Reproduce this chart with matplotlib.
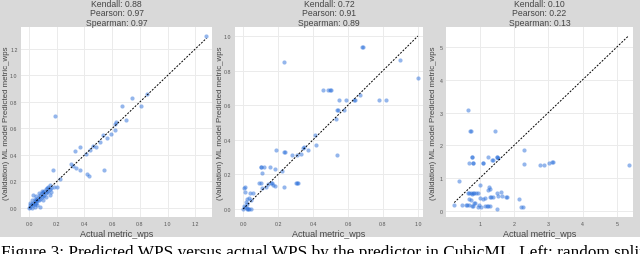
import matplotlib
matplotlib.use("Agg")
import matplotlib.pyplot as plt
from matplotlib.patches import Rectangle

# panel 1: random split
p1_actual = [0.00, 0.01, 0.01, 0.02, 0.02, 0.03, 0.03, 0.04, 0.04, 0.05, 0.05, 0.06, 0.06, 0.07,
             0.07, 0.08, 0.08, 0.09, 0.09, 0.10, 0.10, 0.11, 0.11, 0.12, 0.12, 0.13, 0.13, 0.14,
             0.14, 0.15, 0.15, 0.16, 0.16, 0.03, 0.05, 0.08, 0.01, 0.02, 0.04, 0.06, 0.07, 0.09,
             0.10, 0.18, 0.20, 0.22, 0.04, 0.12, 0.15,
             0.17, 0.37, 0.42, 0.43, 0.54, 0.33, 0.37, 0.30, 0.34, 0.41, 0.44, 0.48, 0.51, 0.53,
             0.56, 0.59, 0.62, 0.63, 0.62, 0.70, 0.19, 0.67, 0.81, 0.74, 0.85, 1.28, 0.32, 0.46]
p1_pred = [0.00, 0.01, 0.02, 0.00, 0.03, 0.02, 0.04, 0.03, 0.05, 0.04, 0.06, 0.05, 0.07, 0.06,
           0.08, 0.07, 0.10, 0.08, 0.11, 0.09, 0.12, 0.10, 0.13, 0.11, 0.14, 0.12, 0.15, 0.13,
           0.16, 0.14, 0.17, 0.12, 0.15, 0.10, 0.09, 0.005, 0.04, 0.06, 0.01, 0.02, 0.11, 0.13,
           0.06, 0.16, 0.16, 0.22, 0.07, 0.08, 0.10,
           0.29, 0.29, 0.26, 0.24, 0.29, 0.43, 0.46, 0.33, 0.30, 0.41, 0.44, 0.46, 0.50, 0.55,
           0.53, 0.56, 0.59, 0.65, 0.63, 0.66, 0.69, 0.77, 0.77, 0.83, 0.86, 1.30, 0.32, 0.47]

# panel 2
p2_actual = [0.234, 0.68, 0.685, 0.90, 1.00, 0.46, 0.485, 0.50, 0.505, 0.55, 0.59, 0.635, 0.64,
             0.67, 0.78, 0.82, 0.54, 0.545, 0.575, 0.53, 0.41, 0.42, 0.535, 0.19, 0.235, 0.24,
             0.28, 0.31, 0.33, 0.34, 0.35, 0.37, 0.10, 0.105, 0.12, 0.155, 0.18, 0.11, 0.225,
             0.09, 0.105, 0.14, 0.16, 0.165, 0.17, 0.18, 0.11, 0.13, 0.235, 0.30, 0.31, 0.315,
             0.01, 0.005, 0.01, 0.04, 0.055, 0.02, 0.035, 0.045, 0.015, 0.00, 0.02, 0.035, 0.01,
             0.02, 0.045, 0.005, 0.03, 0.025]
p2_pred = [0.85, 0.935, 0.935, 0.86, 0.76, 0.69, 0.69, 0.69, 0.69, 0.63, 0.63, 0.63, 0.63,
           0.66, 0.63, 0.63, 0.57, 0.57, 0.57, 0.52, 0.43, 0.37, 0.31, 0.34, 0.33, 0.33,
           0.31, 0.31, 0.32, 0.35, 0.36, 0.34, 0.245, 0.245, 0.245, 0.245, 0.23, 0.21, 0.22,
           0.15, 0.15, 0.145, 0.15, 0.15, 0.14, 0.135, 0.12, 0.125, 0.13, 0.15, 0.15, 0.15,
           0.13, 0.12, 0.10, 0.09, 0.09, 0.06, 0.065, 0.05, 0.04, 0.00, 0.00, 0.00, 0.01,
           0.03, 0.00, 0.02, 0.00, 0.005]

# panel 3
p3_actual = [0.67, 0.72, 0.75, 1.46, 2.30, 0.77, 0.78, 1.23, 1.50, 1.52, 1.55, 0.70, 0.80, 0.81,
             1.09, 1.11, 1.36, 1.38, 2.30, 2.76, 2.87, 3.03, 3.10, 3.15, 5.34, 0.39, 1.02,
             1.28, 1.23, 1.30,
             0.65, 0.70, 0.75, 0.80, 0.85, 0.90, 0.95, 1.00, 0.78, 0.70, 0.75, 1.09, 1.17, 1.30,
             1.33, 1.40, 1.55, 1.65, 1.76, 1.80, 2.14, 1.50, 1.62, 0.60, 0.62, 0.50, 0.78, 0.80,
             0.70, 0.94, 1.03, 1.21, 1.24, 1.31, 1.52, 2.20, 2.25, 0.26, 0.83, 0.87, 0.98, 1.15]
p3_pred = [3.08, 2.43, 2.43, 2.43, 1.86, 1.64, 1.64, 1.64, 1.64, 1.64, 1.62, 1.48, 1.48, 1.48,
           1.46, 1.46, 1.55, 1.55, 1.43, 1.40, 1.40, 1.48, 1.49, 1.50, 1.41, 0.92, 0.80,
           0.72, 0.63, 0.66,
           0.54, 0.54, 0.54, 0.54, 0.54, 0.54, 0.54, 0.40, 0.52, 0.37, 0.35, 0.37, 0.40, 0.42,
           0.42, 0.43, 0.47, 0.45, 0.43, 0.44, 0.37, 0.55, 0.58, 0.18, 0.18, 0.18, 0.16, 0.16,
           0.20, 0.13, 0.12, 0.14, 0.14, 0.14, 0.06, 0.13, 0.13, 0.18, 0.25, 0.24, 0.20, 0.15]

titles = ["Kendall: 0.88\nPearson: 0.97\nSpearman: 0.97",
          "Kendall: 0.72\nPearson: 0.91\nSpearman: 0.89",
          "Kendall: 0.10\nPearson: 0.22\nSpearman: 0.13"]
xticks = [[0, 0.2, 0.4, 0.6, 0.8, 1.0, 1.2], [0, 0.2, 0.4, 0.6, 0.8, 1.0], [1, 2, 3, 4, 5]]
yticks = [[0, 0.2, 0.4, 0.6, 0.8, 1.0, 1.2], [0, 0.2, 0.4, 0.6, 0.8, 1.0], [0, 1, 2, 3, 4, 5]]
xlims = [(-0.058, 1.32), (-0.046, 1.029), (0.02, 5.47)]
ylims = [(-0.068, 1.365), (-0.046, 1.052), (-0.18, 5.61)]
tick_fmt = ["{:.1f}", "{:.1f}", "{:g}"]

W, H = 640, 255
fig = plt.figure(figsize=(6.4, 2.55), dpi=100)
fig.patch.set_facecolor("white")
fig.add_artist(Rectangle((0, 1 - 238 / H), 1, 238 / H, transform=fig.transFigure,
                         facecolor="#d9d9d9", edgecolor="none", zorder=0))

boxes = [(21, 212), (235, 423), (446, 633)]
ylabel_x = [6.5, 220.5, 433.5]
top, bottom = 28, 218
font = "Liberation Sans"
data = [(p1_actual, p1_pred), (p2_actual, p2_pred), (p3_actual, p3_pred)]

for i, (l, r) in enumerate(boxes):
    ax = fig.add_axes([l / W, 1 - bottom / H, (r - l) / W, (bottom - top) / H])
    ax.set_facecolor("white")
    x, y = data[i]
    ax.scatter(x, y, s=9, color="#2a6fdb", alpha=0.5, linewidths=0, zorder=3)
    lo, hi = min(x), max(x)
    ax.plot([lo, hi], [lo, hi], color="black", lw=0.7, ls=(0, (2, 1.5)), zorder=4)
    ax.set_xlim(*xlims[i])
    ax.set_ylim(*ylims[i])
    ax.set_xticks(xticks[i])
    ax.set_yticks(yticks[i])
    ax.set_xticklabels([tick_fmt[i].format(v) for v in xticks[i]])
    ax.set_yticklabels([tick_fmt[i].format(v) for v in yticks[i]])
    ax.tick_params(axis="x", length=0, labelsize=3.8, labelcolor="#555555", pad=3)
    ax.tick_params(axis="y", length=0, labelsize=3.8, labelcolor="#555555", pad=2.5)
    for lab in ax.get_xticklabels() + ax.get_yticklabels():
        lab.set_family(font)
    ax.grid(True, color="#ebebeb", lw=0.7, zorder=0)
    ax.set_axisbelow(True)
    for s in ax.spines.values():
        s.set_visible(False)
    ax.set_xlabel("Actual metric_wps", fontsize=6.5, family=font, color="#444444", labelpad=2)
    ax.set_ylabel("(Validation) ML model Predicted metric_wps", fontsize=5.7, family=font,
                  color="#444444", va="center")
    ax.yaxis.set_label_coords((ylabel_x[i] - l) / (r - l), 0.5)
    ax.set_title(titles[i], fontsize=6.2, family=font, color="#444444", pad=0.3, linespacing=1.1)

fig.text(1 / W, 1 - 245 / H, "Figure 3: Predicted WPS versus actual WPS by the predictor in CubicML. Left: random split",
         fontsize=12.4, family="Liberation Serif", va="top", ha="left", color="black")

fig.savefig("out.png", dpi=100, facecolor=fig.get_facecolor())
